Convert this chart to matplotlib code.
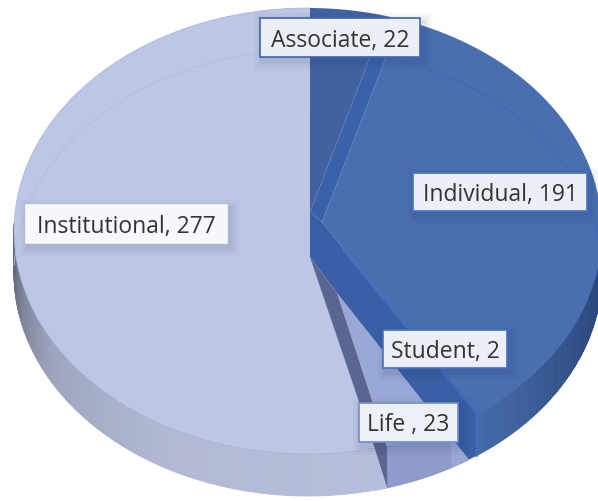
import matplotlib
matplotlib.use("Agg")
import matplotlib.pyplot as plt
from matplotlib.patches import Polygon, Rectangle
from matplotlib.colors import to_rgb
import numpy as np

# data
categories = ["Associate", "Individual", "Student", "Life ", "Institutional"]
values = [22, 191, 2, 23, 277]

# pixel geometry of the tilted pie
cx, cy = 308, 231
rx, ry = 294, 223
depth = 42

# Excel's perspective squeezes the angles a little on the near side
edge_nudge = [0, -3.9, -3.5, 0.5, 0]

cum = np.cumsum(values) / np.sum(values) * 360
edges = [0] + [c + n for c, n in zip(cum, edge_nudge)]
a0, a1, a2, a3, a4, a5 = edges
a4_low = a4 - 2.5


def rim(theta, drop=0):
    t = np.radians(theta)
    return np.column_stack([cx + rx * np.sin(t), cy + drop - ry * np.cos(t)])


def arc(start, end, drop=0, n=80):
    return rim(np.linspace(start, end, n), drop)


def mix(c1, c2, f):
    c1, c2 = np.array(to_rgb(c1)), np.array(to_rgb(c2))
    return tuple(c1 + (c2 - c1) * f)


def wall(ax, start, end, c1, c2, n=60):
    steps = np.linspace(start, end, n + 1)
    for i in range(n):
        top = arc(steps[i], steps[i + 1], 0, 3)
        bottom = arc(steps[i + 1], steps[i], depth, 3)
        col = mix(c1, c2, i / (n - 1))
        ax.add_patch(Polygon(np.vstack([top, bottom]), closed=True, fc=col, ec=col, lw=0.6, zorder=1))


fig = plt.figure(figsize=(5.98, 5.01), dpi=100)
ax = fig.add_axes([0, 0, 1, 1])
ax.set_xlim(0, 598)
ax.set_ylim(501, 0)
ax.axis("off")

# side walls
wall(ax, 85, 120, "#263d6b", "#34538c")
wall(ax, 120, a2, "#34538c", "#456aa9")
wall(ax, a3, a4, "#8e9bcb", "#8e9bcb")
wall(ax, a4_low, 205, "#b6bedb", "#b3bad6")
wall(ax, 205, 240, "#b3bad6", "#9ea5bf")
wall(ax, 240, 272, "#9ea5bf", "#5f6474")

apex_back = (310, 212)
apex_mid = (322, 222)
apex_low = (310, 257)

# Institutional
inst = np.vstack([[apex_low], arc(a4, a5 + 0.4)])
ax.add_patch(Polygon(inst, closed=True, fc="#bdc7e4", ec="#a3b1de", lw=0.5, zorder=2))

# Associate, seen through as a darker wedge
assoc = np.vstack([[apex_back], arc(a0 + 0.4, a1)])
ax.add_patch(Polygon(assoc, closed=True, fc="#41619f", ec="none", zorder=2))

# Individual
band_out = arc(a1 + 3, a2)
indiv = np.vstack([[apex_mid], band_out])
ax.add_patch(Polygon(indiv, closed=True, fc="#4a6fb1", ec="none", zorder=3))
band = np.vstack([[apex_back], rim(a1), rim(a1 + 3), [apex_mid]])
ax.add_patch(Polygon(band, closed=True, fc="#3a62ab", ec="none", zorder=3))
ax.plot(*arc(a1, 92, depth).T, color="#4368ab", lw=0.8, zorder=4)
ax.plot(*arc(272, 359, depth).T, color="#b3bedf", lw=0.7, zorder=4)

# Life
life_left = (337, 293)
life_top = np.vstack([[life_left], arc(a3, a4_low, depth), [(387, 447)], [(372, 400)]])
ax.add_patch(Polygon(life_top, closed=True, fc="#9aa8d6", ec="none", zorder=3))
wall_poly = np.vstack([arc(a3 + 4, a4, 0, 30), arc(a4_low, a3 + 4, depth, 30)])
ax.add_patch(Polygon(wall_poly, closed=True, fc="#8f9ccb", ec="none", zorder=3))

# Student cut face between Individual and Life
low_corner = rim(a2, depth)[0]
student = np.vstack([[apex_back], [apex_mid], rim(a2), [low_corner], rim(a3, depth), [life_left], [apex_low]])
ax.add_patch(Polygon(student, closed=True, fc="#3a5fa6", ec="none", zorder=4))
ax.plot(*np.vstack([[(343, 250)], rim(a2), [low_corner]]).T, color="#3f6bbd", lw=1.6, zorder=5)

# dark cut face next to Institutional
stripe = np.vstack([[apex_low], [life_left], [(372, 400)], [(387, 447)], rim(a4_low, depth), rim(a4)])
ax.add_patch(Polygon(stripe, closed=True, fc="#5a6590", ec="none", zorder=5))

# labels
boxes = [(260, 18, 160, 39), (413, 173, 174, 38), (383, 330, 124, 38), (359, 403, 99, 39), (26, 205, 201, 38)]
box_edges = ["#3f66ae", "#4472c4", "#4472c4", "#6f8ed0", "#f7f8fd"]
box_fills = ["#eceff7", "#eceff7", "#eceff7", "#eef0f8", "#f7f8fd"]
for cat, val, (x, y, w, h), edge, fill in zip(categories, values, boxes, box_edges, box_fills):
    for grow, alpha in [(9, 0.03), (6, 0.04), (3, 0.06)]:
        ax.add_patch(Rectangle((x + 3 - grow, y + 4 - grow), w + 2 * grow, h + 2 * grow, fc="#1f2f60", ec="none", alpha=alpha, zorder=6))
    ax.add_patch(Rectangle((x, y), w, h, fc=fill, ec=edge, lw=1.2, zorder=7))
    ax.text(x + w / 2, y + h / 2, f"{cat}, {val}", ha="center", va="center_baseline", fontsize=16.5,
            family="Open Sans", color="#333333", zorder=8)

fig.savefig("out.png", dpi=100)
